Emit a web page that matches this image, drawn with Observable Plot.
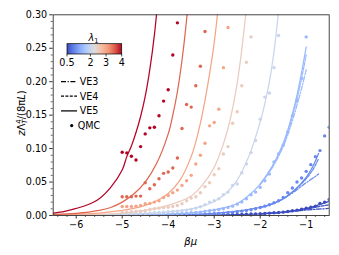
<!DOCTYPE html>
<html><head><meta charset="utf-8">
<script src="https://cdn.jsdelivr.net/npm/d3@7"></script>
<script src="https://cdn.jsdelivr.net/npm/@observablehq/plot@0.6"></script>
<style>
body{margin:0;background:#fff;}
#wrap{position:relative;width:339px;height:255px;}
</style></head><body><div id="wrap"></div>
<script>
// ---------- data ----------
const lambdaValues = [0.5, 1, 1.5, 2, 2.5, 3, 3.5, 4];
const colorTicks = [0.5, 2, 3, 4];
const xTicks = [-6, -5, -4, -3, -2, -1];
const xTickLabels = ["−6", "−5", "−4", "−3", "−2", "−1"];
const xMinor = [-6.4,-6.2,-5.8,-5.6,-5.4,-5.2,-4.8,-4.6,-4.4,-4.2,-3.8,-3.6,-3.4,-3.2,-2.8,-2.6,-2.4,-2.2,-1.8,-1.6,-1.4,-1.2,-0.8,-0.6];
const yTicks = [0, 0.05, 0.10, 0.15, 0.20, 0.25, 0.30];
const yTickLabels = ["0.00", "0.05", "0.10", "0.15", "0.20", "0.25", "0.30"];
const yMinor = [0.01,0.02,0.03,0.04,0.06,0.07,0.08,0.09,0.11,0.12,0.13,0.14,0.16,0.17,0.18,0.19,0.21,0.22,0.23,0.24,0.26,0.27,0.28,0.29];
const legendLabels = ["VE3", "VE4", "VE5", "QMC"];

// VE5 curves: [βμ, value]
const ve5_l40 = [[-6.5,0.0037],[-6.25,0.0062],[-6.0,0.0105],[-5.75,0.016],[-5.5,0.025],[-5.25,0.042],[-5.0,0.068],[-4.9,0.088],[-4.8,0.104],[-4.7,0.124],[-4.6,0.148],[-4.5,0.178],[-4.4,0.218],[-4.3,0.27],[-4.2,0.34]];
const ve5_l35 = [[-6.5,0.0015],[-6.0,0.003],[-5.5,0.0075],[-5.25,0.012],[-5.0,0.020],[-4.75,0.032],[-4.5,0.050],[-4.25,0.078],[-4.0,0.122],[-3.9,0.150],[-3.8,0.185],[-3.7,0.232],[-3.6,0.293],[-3.5,0.37]];
const ve5_l30 = [[-6.5,0.0008],[-6.0,0.0018],[-5.5,0.0035],[-5.0,0.0075],[-4.75,0.0105],[-4.5,0.015],[-4.25,0.022],[-4.0,0.033],[-3.75,0.052],[-3.5,0.088],[-3.4,0.110],[-3.3,0.138],[-3.2,0.172],[-3.1,0.212],[-3.0,0.258],[-2.9,0.32]];
const ve5_l25 = [[-6.5,0.0004],[-6.0,0.0009],[-5.5,0.0018],[-5.0,0.0035],[-4.5,0.0075],[-4.0,0.015],[-3.75,0.021],[-3.5,0.029],[-3.25,0.046],[-3.0,0.072],[-2.9,0.088],[-2.8,0.107],[-2.7,0.130],[-2.6,0.160],[-2.5,0.198],[-2.4,0.248],[-2.3,0.31]];
const ve5_l20 = [[-6.5,0.0002],[-6.0,0.0005],[-5.0,0.0015],[-4.5,0.003],[-4.0,0.0055],[-3.5,0.010],[-3.25,0.014],[-3.0,0.021],[-2.75,0.033],[-2.5,0.053],[-2.25,0.088],[-2.0,0.140],[-1.9,0.167],[-1.8,0.200],[-1.7,0.245],[-1.6,0.305],[-1.55,0.34]];
const ve5_l15 = [[-6.5,0.0001],[-5.5,0.0003],[-5.0,0.0006],[-4.5,0.0012],[-4.0,0.0022],[-3.5,0.004],[-3.0,0.0085],[-2.75,0.012],[-2.5,0.018],[-2.25,0.030],[-2.0,0.047],[-1.75,0.072],[-1.5,0.108],[-1.4,0.128],[-1.3,0.152],[-1.2,0.180],[-1.1,0.214],[-1.0,0.252]];
const ve5_l10 = [[-6.5,0.0],[-5.0,0.0002],[-4.0,0.0008],[-3.5,0.0015],[-3.0,0.003],[-2.5,0.0065],[-2.0,0.012],[-1.75,0.017],[-1.5,0.025],[-1.25,0.038],[-1.0,0.057],[-0.85,0.074],[-0.73,0.093]];
const ve5_l05 = [[-6.5,0.0],[-4.0,0.0002],[-3.0,0.0007],[-2.5,0.0013],[-2.0,0.0025],[-1.5,0.005],[-1.0,0.0105],[-0.75,0.0155],[-0.5,0.021],[-0.45,0.0225]];
// VE4 curves (only where they separate)
const ve4_l15 = [[-2.0,0.047],[-1.75,0.072],[-1.5,0.106],[-1.4,0.125],[-1.3,0.148],[-1.2,0.174],[-1.1,0.205],[-1.0,0.240]];
const ve4_l10 = [[-2.0,0.012],[-1.75,0.017],[-1.5,0.025],[-1.25,0.038],[-1.0,0.055],[-0.85,0.069],[-0.73,0.085]];
const ve4_l05 = [[-2.0,0.0025],[-1.5,0.005],[-1.0,0.0098],[-0.75,0.013],[-0.5,0.016]];
// VE3 curves
const ve3_l15 = [[-2.0,0.046],[-1.75,0.070],[-1.5,0.103],[-1.4,0.121],[-1.3,0.142],[-1.2,0.165],[-1.1,0.190],[-1.0,0.218]];
const ve3_l10 = [[-2.0,0.012],[-1.75,0.017],[-1.5,0.025],[-1.25,0.036],[-1.0,0.049],[-0.85,0.056],[-0.73,0.062]];
const ve3_l05 = [[-2.0,0.0024],[-1.5,0.0048],[-1.0,0.0082],[-0.75,0.0095],[-0.5,0.0105]];

// QMC points on a βμ grid
const qmcMu = [-5.0,-4.9,-4.8,-4.7,-4.6,-4.5,-4.4,-4.3,-4.2,-4.1,-4.0,-3.9,-3.8,-3.7,-3.6,-3.5,-3.4,-3.3,-3.2,-3.1,-3.0,-2.9,-2.8,-2.7,-2.6,-2.5,-2.4,-2.3,-2.2,-2.1,-2.0,-1.9,-1.8,-1.7,-1.6,-1.5,-1.4,-1.3,-1.2,-1.1,-1.0,-0.9,-0.8,-0.7,-0.6,-0.5];
const qmc_l40 = [0.0945,0.0936,0.0885,0.083,0.103,0.122,0.131,0.132,0.149,0.171,0.188,0.240,0.288];
const qmc_l35 = [0.028,0.028,0.028,0.029,0.029,0.049,0.040,0.046,0.055,0.063,0.065,0.071,0.086,0.130,0.166,0.162,0.194,0.223,0.275];
const qmc_l30 = [0.0135,0.0135,0.0135,0.014,0.015,0.0175,0.018,0.020,0.022,0.027,0.030,0.034,0.038,0.045,0.052,0.060,0.077,0.090,0.108,0.134,0.139,0.159,0.221,0.281];
const qmc_l25 = [0.005,0.005,0.0055,0.006,0.0065,0.0075,0.009,0.010,0.011,0.012,0.0125,0.0135,0.015,0.0175,0.022,0.026,0.028,0.034,0.043,0.049,0.061,0.070,0.092,0.103,0.138,0.155,0.194,0.229,0.267];
const qmc_l20 = [0.002,0.002,0.0025,0.0025,0.003,0.003,0.0035,0.004,0.0045,0.005,0.0055,0.006,0.0065,0.007,0.008,0.009,0.011,0.013,0.016,0.020,0.022,0.025,0.031,0.035,0.045,0.047,0.064,0.077,0.094,0.112,0.144,0.177,0.183,0.221,0.269];
const qmc_l15 = [0.0005,0.0006,0.0007,0.0008,0.0009,0.001,0.0012,0.0014,0.0016,0.0018,0.002,0.0023,0.0026,0.003,0.0035,0.004,0.0045,0.005,0.006,0.007,0.008,0.009,0.010,0.012,0.014,0.017,0.020,0.025,0.031,0.035,0.042,0.052,0.062,0.080,0.092,0.105,0.125,0.149,0.172,0.205,0.267];
const qmc_l10 = [0.0001,0.0001,0.0002,0.0002,0.0002,0.0003,0.0003,0.0004,0.0004,0.0005,0.0006,0.0007,0.0008,0.0009,0.001,0.0012,0.0014,0.0016,0.0019,0.0022,0.0026,0.003,0.0035,0.004,0.0047,0.0055,0.0065,0.0075,0.0087,0.010,0.012,0.014,0.016,0.019,0.022,0.027,0.034,0.041,0.050,0.056,0.066,0.076,0.088,0.097,0.119,0.132];
const qmc_l05 = [0,0,0,0,0.0001,0.0001,0.0001,0.0001,0.0001,0.0002,0.0002,0.0002,0.0003,0.0003,0.0004,0.0004,0.0005,0.0006,0.0006,0.0007,0.0008,0.0009,0.001,0.0012,0.0013,0.0015,0.0017,0.0019,0.0022,0.0025,0.0028,0.0031,0.0035,0.004,0.0045,0.005,0.006,0.007,0.008,0.0095,0.011,0.0125,0.014,0.018,0.020,0.024];

// ---------- tables ----------
const ve5Sets = [ve5_l05, ve5_l10, ve5_l15, ve5_l20, ve5_l25, ve5_l30, ve5_l35, ve5_l40];
const qmcSets = [qmc_l05, qmc_l10, qmc_l15, qmc_l20, qmc_l25, qmc_l30, qmc_l35, qmc_l40];
const toRows = (sets, lams) => sets.flatMap((s, k) => s.map(([mu, v]) => ({mu, v, lam: lams[k]})));
const ve5Rows = toRows(ve5Sets, lambdaValues);
const ve4Rows = toRows([ve4_l05, ve4_l10, ve4_l15], [0.5, 1, 1.5]);
const ve3Rows = toRows([ve3_l05, ve3_l10, ve3_l15], [0.5, 1, 1.5]);
const qmcRows = qmcSets.flatMap((s, k) => s.map((v, i) => ({mu: qmcMu[i], v, lam: lambdaValues[k]})));

// matplotlib-like coolwarm
const coolwarm = d3.piecewise(d3.interpolateRgb, ["#3b4cc0","#6282ea","#8db0fe","#b9d0f9","#dddcdc","#f6bfa6","#f49a7b","#dc5d4a","#b40426"]);

const FS = 9.6;
const lineOpts = {x: "mu", y: "v", z: "lam", stroke: "lam", strokeWidth: 1.25, curve: "catmull-rom", clip: true};
const chart = Plot.plot({
  width: 339, height: 255,
  marginLeft: 52.7, marginRight: 10.3, marginTop: 14.3, marginBottom: 40,
  style: {fontFamily: "'DejaVu Sans', sans-serif", fontSize: FS + "px", background: "white", color: "#000"},
  x: {domain: [-6.5, -0.5]},
  y: {domain: [0, 0.30]},
  color: {type: "linear", domain: [0.5, 4], interpolate: coolwarm},
  marks: [
    Plot.line(ve3Rows, {...lineOpts, strokeDasharray: "5,1.6,1.2,1.6"}),
    Plot.line(ve4Rows, {...lineOpts, strokeDasharray: "3,1.4"}),
    Plot.line(ve5Rows, lineOpts),
    Plot.dot(qmcRows, {x: "mu", y: "v", fill: "lam", r: 1.7, clip: true}),
    Plot.axisX({ticks: xMinor, tickSize: 2, tickFormat: () => "", label: null, strokeWidth: 0.6}),
    Plot.axisX({ticks: xTicks, tickSize: 3.5, tickPadding: 2.5, tickFormat: d => xTickLabels[xTicks.indexOf(d)], label: null, strokeWidth: 0.8}),
    Plot.axisY({ticks: yMinor, tickSize: 2, tickFormat: () => "", label: null, strokeWidth: 0.6}),
    Plot.axisY({ticks: yTicks, tickSize: 3.5, tickPadding: 2.5, tickFormat: d => yTickLabels[yTicks.findIndex(t => Math.abs(t - d) < 1e-9)], label: null, strokeWidth: 0.8}),
    Plot.frame({stroke: "#333", strokeWidth: 0.9})
  ]
});
document.getElementById("wrap").appendChild(chart);
const svg = d3.select(chart);

// y label
const yl = svg.append("text").attr("transform", "translate(24.5,113) rotate(-90)")
  .attr("text-anchor", "middle").attr("font-size", 10).attr("fill", "#000");
yl.append("tspan").attr("font-style", "italic").text("z");
yl.append("tspan").text("Λ");
yl.append("tspan").attr("font-size", 7).attr("dy", -3.8).text("4");
yl.append("tspan").attr("font-size", 7).attr("font-style", "italic").attr("dx", -4.4).attr("dy", 6.4).text("T");
yl.append("tspan").attr("dy", -2.6).text("/(8π");
yl.append("tspan").attr("font-style", "italic").text("L");
yl.append("tspan").text(")");

// x label
svg.append("text").attr("x", 190.7).attr("y", 244.5).attr("text-anchor", "middle")
  .attr("font-size", 10).attr("font-style", "italic").attr("fill", "#000").text("βμ");

// colorbar
const cbX = d3.scaleLinear([0.5, 4], [67, 121.7]);
const defs = svg.append("defs");
const grad = defs.append("linearGradient").attr("id", "cwgrad");
d3.range(0, 1.0001, 0.05).forEach(t => grad.append("stop").attr("offset", t).attr("stop-color", coolwarm(t)));
svg.append("rect").attr("x", 67).attr("y", 43.7).attr("width", 54.7).attr("height", 10.3)
  .attr("fill", "url(#cwgrad)").attr("stroke", "#000").attr("stroke-width", 0.7);
colorTicks.forEach(t => {
  svg.append("line").attr("x1", cbX(t)).attr("x2", cbX(t)).attr("y1", 54).attr("y2", 56.5).attr("stroke", "#000").attr("stroke-width", 0.7);
  svg.append("text").attr("x", cbX(t)).attr("y", 65.7).attr("text-anchor", "middle").attr("font-size", FS).attr("fill", "#000").text(String(t));
});
const cbt = svg.append("text").attr("x", 93.5).attr("y", 40.5).attr("text-anchor", "middle").attr("font-size", FS).attr("fill", "#000");
cbt.append("tspan").attr("font-style", "italic").text("λ");
cbt.append("tspan").attr("font-size", 6.7).attr("dy", 2).text("1");

// line-style legend
const legY = [81.5, 96.2, 110.9, 125.6];
const legDash = ["5,1.6,1.2,1.6", "3,1.4", null];
legendLabels.forEach((lab, i) => {
  if (i < 3) {
    const l = svg.append("line").attr("x1", 61).attr("x2", 77).attr("y1", legY[i]).attr("y2", legY[i])
      .attr("stroke", "#000").attr("stroke-width", 1.25);
    if (legDash[i]) l.attr("stroke-dasharray", legDash[i]);
  } else {
    svg.append("circle").attr("cx", 71.7).attr("cy", legY[i]).attr("r", 1.6).attr("fill", "#000");
  }
  svg.append("text").attr("x", 89).attr("y", legY[i] + 3.5).attr("font-size", FS).attr("fill", "#000").text(lab);
});
</script></body></html>
